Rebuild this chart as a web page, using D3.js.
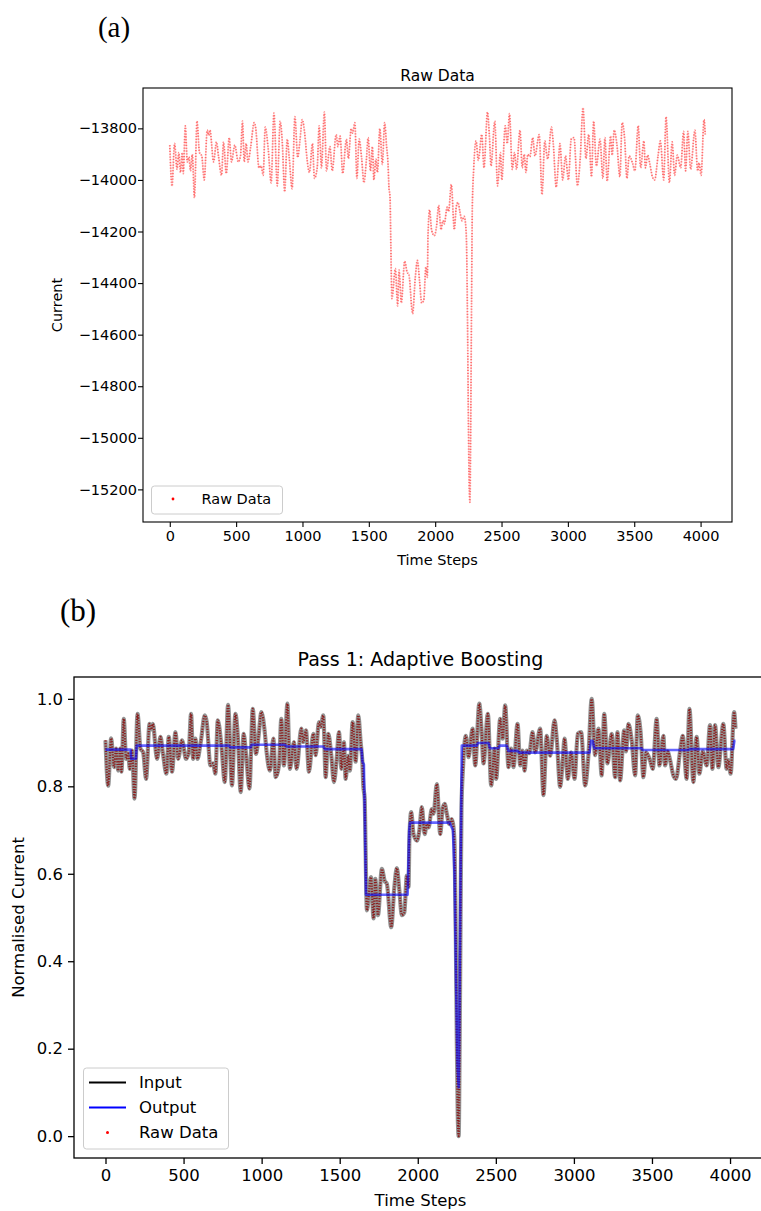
<!DOCTYPE html>
<html><head><meta charset="utf-8">
<script src="https://cdn.jsdelivr.net/npm/d3@7"></script>
<style>
body{margin:0;background:#fff;}
svg{display:block;}
text{font-family:"DejaVu Sans",sans-serif;fill:#000;}
</style>
</head><body>
<svg id="chart" width="761" height="1211"></svg>
<script>
// ---- data: [time step, current] ----
const rawData = [
[0,-13865],[17,-14024],[36,-13858],[55,-13959],[68,-13894],[81,-13971],[94,-13894],[102,-13975],
[117,-13790],[132,-13930],[145,-13911],[156,-13965],[170,-13901],[186,-14069],[205,-13772],[224,-13894],
[241,-13907],[260,-14000],[282,-13807],[294,-13827],[303,-13807],[330,-13930],[352,-13853],[367,-13907],
[390,-13982],[405,-13853],[426,-13975],[448,-13836],[465,-13930],[490,-13865],[516,-13930],[533,-13907],
[548,-13772],[561,-13930],[576,-13859],[589,-13930],[610,-13871],[636,-13778],[648,-13800],[672,-13953],
[689,-13946],[704,-13982],[719,-13795],[742,-13881],[764,-14011],[785,-13741],[810,-14023],[832,-13772],
[847,-13847],[866,-14046],[885,-13842],[900,-13913],[922,-14034],[943,-13755],[964,-13913],[981,-13847],
[998,-13766],[1020,-13836],[1032,-13907],[1053,-13971],[1075,-13859],[1090,-13994],[1111,-13953],[1126,-13790],
[1143,-13953],[1165,-13737],[1181,-13965],[1207,-13871],[1224,-13965],[1254,-13824],[1267,-13871],[1284,-13830],
[1303,-13975],[1331,-13842],[1346,-13917],[1367,-13801],[1378,-13818],[1395,-13778],[1410,-13994],[1427,-13842],
[1446,-13917],[1463,-14011],[1480,-13934],[1495,-13836],[1512,-13965],[1527,-13871],[1538,-14000],[1553,-13919],
[1565,-13971],[1583,-13801],[1602,-13940],[1619,-13778],[1634,-13871],[1645,-13940],[1651,-14023],[1660,-14069],
[1666,-14256],[1674,-14460],[1700,-14344],[1717,-14488],[1728,-14350],[1745,-14477],[1770,-14315],[1788,-14357],
[1802,-14367],[1830,-14519],[1850,-14379],[1866,-14312],[1882,-14390],[1898,-14477],[1914,-14467],[1930,-14338],
[1941,-14378],[1946,-14216],[1958,-14116],[1973,-14194],[1994,-14216],[2010,-14181],[2026,-14099],[2044,-14193],
[2058,-14158],[2069,-14170],[2090,-14106],[2101,-14122],[2122,-14018],[2144,-14193],[2159,-14104],[2172,-14087],
[2186,-14122],[2202,-14158],[2218,-14141],[2229,-14170],[2236,-14239],[2244,-14562],[2250,-14913],[2256,-15174],
[2262,-15250],[2268,-14944],[2274,-14485],[2280,-14103],[2290,-13959],[2308,-13849],[2325,-13924],[2351,-13824],
[2368,-13953],[2394,-13737],[2408,-13824],[2421,-13946],[2449,-13772],[2470,-14023],[2492,-13894],[2502,-14000],
[2528,-13790],[2543,-13859],[2560,-13743],[2581,-13959],[2598,-13894],[2613,-13959],[2639,-13807],[2656,-13953],
[2671,-13901],[2684,-13971],[2698,-13901],[2714,-13910],[2735,-13836],[2752,-13907],[2784,-13824],[2805,-14057],
[2826,-13849],[2842,-13907],[2848,-13919],[2876,-13795],[2890,-13859],[2912,-14028],[2929,-13930],[2940,-13859],
[2961,-14000],[2982,-13907],[3004,-14000],[3025,-13842],[3046,-13836],[3072,-14023],[3093,-13917],[3114,-13720],
[3136,-13917],[3157,-13824],[3178,-13988],[3194,-13772],[3215,-13946],[3242,-13842],[3264,-13994],[3279,-13836],
[3296,-14005],[3322,-13830],[3334,-13904],[3349,-13807],[3370,-13865],[3392,-13988],[3409,-13778],[3428,-13842],
[3445,-13994],[3462,-13907],[3488,-13936],[3505,-13965],[3530,-13790],[3548,-13953],[3573,-13849],[3584,-13953],
[3601,-13904],[3616,-13934],[3637,-13988],[3654,-14000],[3680,-13904],[3697,-13849],[3722,-14000],[3740,-13755],
[3765,-14011],[3786,-13853],[3804,-13982],[3825,-13904],[3850,-13953],[3872,-13812],[3887,-13965],[3904,-13812],
[3925,-13959],[3957,-13807],[3978,-13965],[3989,-13934],[4004,-13982],[4026,-13766],[4035,-13824]
];

// Output of the boosting pass (normalised units): [time step, value]
const outputData = [
[0,0.884],[160,0.884],[165,0.863],[195,0.863],[200,0.893],[790,0.893],[800,0.889],[930,0.889],
[936,0.895],[1150,0.895],[1158,0.891],[1395,0.891],[1405,0.885],[1640,0.885],[1646,0.856],[1655,0.850],
[1662,0.700],[1668,0.552],[1935,0.552],[1945,0.700],[1950,0.717],[2205,0.717],[2212,0.710],[2225,0.700],
[2235,0.600],[2245,0.350],[2255,0.160],[2262,0.112],[2268,0.350],[2275,0.650],[2282,0.893],[2378,0.893],
[2385,0.899],[2453,0.899],[2462,0.887],[2517,0.887],[2525,0.893],[2570,0.893],[2580,0.881],[2640,0.881],
[2650,0.877],[3100,0.877],[3110,0.904],[3120,0.904],[3130,0.887],[3434,0.887],[3440,0.883],[3733,0.883],
[3740,0.885],[4020,0.885],[4028,0.904],[4035,0.904]
];

const xTicks = [0,500,1000,1500,2000,2500,3000,3500,4000];
const yTicksRaw = [-15200,-15000,-14800,-14600,-14400,-14200,-14000,-13800];
const yTicksNorm = [0,0.2,0.4,0.6,0.8,1.0];

// ---- drawing ----
const svg = d3.select("#chart");
const pad = e => { const r = e[1]-e[0]; return [e[0]-0.05*r, e[1]+0.05*r]; };
const xExt = d3.extent(rawData, d => d[0]);
const yExt = d3.extent(rawData, d => d[1]);
const normData = rawData.map(d => [d[0], (d[1]-yExt[0])/(yExt[1]-yExt[0])]);

const defs = svg.append("defs");

// ===== Panel (a) =====
const A = {l:143, r:732, t:88, b:522, fs:14.5};
const xA = d3.scaleLinear().domain(pad(xExt)).range([A.l, A.r]);
const yA = d3.scaleLinear().domain(pad(yExt)).range([A.b, A.t]);
defs.append("clipPath").attr("id","clipA").append("rect")
  .attr("x",A.l).attr("y",A.t).attr("width",A.r-A.l).attr("height",A.b-A.t);

const lineA = d3.line().x(d=>xA(d[0])).y(d=>yA(d[1])).curve(d3.curveMonotoneX);
const gA = svg.append("g").attr("clip-path","url(#clipA)");
gA.append("path").datum(rawData).attr("d",lineA)
  .attr("fill","none").attr("stroke","red").attr("stroke-opacity",0.15).attr("stroke-width",1.4);
gA.append("path").datum(rawData).attr("d",lineA)
  .attr("fill","none").attr("stroke","red").attr("stroke-opacity",0.5)
  .attr("stroke-width",1.8).attr("stroke-dasharray","1.2 1.6");

const axA_x = svg.append("g").attr("transform",`translate(0,${A.b})`)
  .call(d3.axisBottom(xA).tickValues(xTicks).tickSize(5).tickPadding(4).tickFormat(d3.format("d")));
const axA_y = svg.append("g").attr("transform",`translate(${A.l},0)`)
  .call(d3.axisLeft(yA).tickValues(yTicksRaw).tickSize(5).tickPadding(1).tickFormat(d3.format("d")));
[axA_x, axA_y].forEach(g => {
  g.select(".domain").remove();
  g.selectAll("line").attr("stroke","#000").attr("stroke-width",1.1);
  g.selectAll("text").style("font-size",A.fs+"px").style("font-family","DejaVu Sans").attr("fill","#000");
});
svg.append("rect").attr("x",A.l).attr("y",A.t).attr("width",A.r-A.l).attr("height",A.b-A.t)
  .attr("fill","none").attr("stroke","#000").attr("stroke-width",1.1);

svg.append("text").attr("x",(A.l+A.r)/2).attr("y",81).attr("text-anchor","middle")
  .style("font-size","15.5px").text("Raw Data");
svg.append("text").attr("x",(A.l+A.r)/2).attr("y",565).attr("text-anchor","middle")
  .style("font-size",A.fs+"px").text("Time Steps");
svg.append("text").attr("transform",`translate(57,${(A.t+A.b)/2}) rotate(-90)`).attr("dy","0.35em")
  .attr("text-anchor","middle").style("font-size",A.fs+"px").text("Current");

// legend (a)
const lgA = svg.append("g");
lgA.append("rect").attr("x",151.5).attr("y",486).attr("width",131).attr("height",28).attr("rx",3)
  .attr("fill","#fff").attr("fill-opacity",0.8).attr("stroke","#ccc").attr("stroke-width",1);
lgA.append("circle").attr("cx",173).attr("cy",499).attr("r",1.4).attr("fill","red");
lgA.append("text").attr("x",201.5).attr("y",499).attr("dy","0.36em").style("font-size",A.fs+"px").text("Raw Data");

svg.append("text").attr("x",114).attr("y",37).attr("text-anchor","middle")
  .style("font-family","'Liberation Serif',serif").style("font-size","29px").text("(a)");

// ===== Panel (b) =====
const B = {l:74, r:767, t:677, b:1158, fs:16.5};
const xB = d3.scaleLinear().domain(pad(xExt)).range([B.l, B.r]);
const yB = d3.scaleLinear().domain(pad([0,1])).range([B.b, B.t]);
defs.append("clipPath").attr("id","clipB").append("rect")
  .attr("x",B.l).attr("y",B.t).attr("width",B.r-B.l).attr("height",B.b-B.t);

const lineB = d3.line().x(d=>xB(d[0])).y(d=>yB(d[1])).curve(d3.curveMonotoneX);
const stepB = d3.line().x(d=>xB(d[0])).y(d=>yB(d[1]));
const gB = svg.append("g").attr("clip-path","url(#clipB)");
// Input (black, translucent)
gB.append("path").datum(normData).attr("d",lineB)
  .attr("fill","none").attr("stroke","#000").attr("stroke-opacity",0.42).attr("stroke-width",4.2)
  .attr("stroke-linejoin","round");
// Raw data points (red) on top of input
gB.append("path").datum(normData).attr("d",lineB)
  .attr("fill","none").attr("stroke","#8a0000").attr("stroke-opacity",0.8)
  .attr("stroke-width",2.2).attr("stroke-dasharray","1.2 1.4");
// Output (blue)
gB.append("path").datum(outputData).attr("d",stepB)
  .attr("fill","none").attr("stroke","#0000ff").attr("stroke-opacity",0.6).attr("stroke-width",2.6)
  .attr("stroke-linejoin","round");

const axB_x = svg.append("g").attr("transform",`translate(0,${B.b})`)
  .call(d3.axisBottom(xB).tickValues(xTicks).tickSize(6).tickPadding(5).tickFormat(d3.format("d")));
const axB_y = svg.append("g").attr("transform",`translate(${B.l},0)`)
  .call(d3.axisLeft(yB).tickValues(yTicksNorm).tickSize(6).tickPadding(5).tickFormat(d3.format(".1f")));
[axB_x, axB_y].forEach(g => {
  g.select(".domain").remove();
  g.selectAll("line").attr("stroke","#000").attr("stroke-width",1.3);
  g.selectAll("text").style("font-size",B.fs+"px").style("font-family","DejaVu Sans").attr("fill","#000");
});
svg.append("rect").attr("x",B.l).attr("y",B.t).attr("width",B.r-B.l).attr("height",B.b-B.t)
  .attr("fill","none").attr("stroke","#000").attr("stroke-width",1.3);

svg.append("text").attr("x",(B.l+B.r)/2).attr("y",666).attr("text-anchor","middle")
  .style("font-size","19px").text("Pass 1: Adaptive Boosting");
svg.append("text").attr("x",(B.l+B.r)/2).attr("y",1206).attr("text-anchor","middle")
  .style("font-size",B.fs+"px").text("Time Steps");
svg.append("text").attr("transform",`translate(18,${(B.t+B.b)/2}) rotate(-90)`).attr("dy","0.35em")
  .attr("text-anchor","middle").style("font-size",B.fs+"px").text("Normalised Current");

// legend (b)
const lgB = svg.append("g");
lgB.append("rect").attr("x",83.5).attr("y",1068).attr("width",145).attr("height",81).attr("rx",3)
  .attr("fill","#fff").attr("fill-opacity",0.8).attr("stroke","#ccc").attr("stroke-width",1);
const legItems = [
  {label:"Input", type:"line", color:"#000", y:1082.5},
  {label:"Output", type:"line", color:"#0000ff", y:1107.5},
  {label:"Raw Data", type:"dot", color:"red", y:1132.5}
];
legItems.forEach(it => {
  if (it.type === "line") {
    lgB.append("line").attr("x1",89).attr("x2",126).attr("y1",it.y).attr("y2",it.y)
      .attr("stroke",it.color).attr("stroke-width",2.2);
  } else {
    lgB.append("circle").attr("cx",107.5).attr("cy",it.y).attr("r",1.5).attr("fill",it.color);
  }
  lgB.append("text").attr("x",139).attr("y",it.y).attr("dy","0.36em").style("font-size",B.fs+"px").text(it.label);
});

svg.append("text").attr("x",78).attr("y",621).attr("text-anchor","middle")
  .style("font-family","'Liberation Serif',serif").style("font-size","31px").text("(b)");
</script>
</body></html>
